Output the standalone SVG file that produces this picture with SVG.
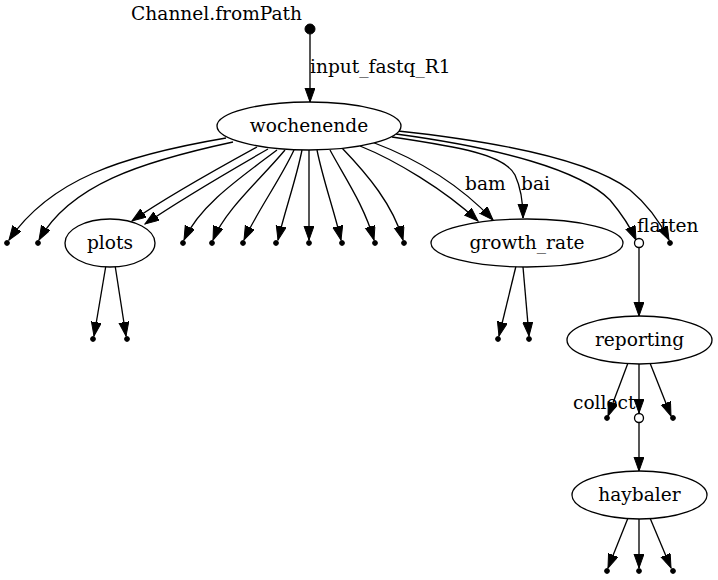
<svg xmlns="http://www.w3.org/2000/svg" width="718" height="580" viewBox="0 0 718 580">
<style>
.n{fill:#fff;stroke:#000;stroke-width:1.33}
.p{fill:#000;stroke:#000;stroke-width:1}
.o{fill:#fff;stroke:#000;stroke-width:1.33}
.e{fill:none;stroke:#000;stroke-width:1.33}
text{font-family:"DejaVu Serif","Liberation Serif",serif;font-size:18.6px;fill:#000}
.c{text-anchor:middle}
</style>
<defs>
<marker id="ah" markerUnits="userSpaceOnUse" markerWidth="15" markerHeight="11" refX="14" refY="5" orient="auto">
<path d="M0,0 L14,5 L0,10 Z" fill="#000" stroke="#000" stroke-width="1"/>
</marker>
</defs>
<rect width="718" height="580" fill="#fff"/>
<g id="connectors">
<path class="e" marker-end="url(#ah)" d="M310,34 L310,102"/>
<path class="e" marker-end="url(#ah)" d="M226,138 C120,156 50,180 9,240"/>
<path class="e" marker-end="url(#ah)" d="M233,142 C140,162 70,185 39,240"/>
<path class="e" marker-end="url(#ah)" d="M257,147 C215,170 165,198 132,221"/>
<path class="e" marker-end="url(#ah)" d="M268,149 C228,172 180,200 145,224"/>
<path class="e" marker-end="url(#ah)" d="M277,150 C240,178 200,205 184,240"/>
<path class="e" marker-end="url(#ah)" d="M285,150 C260,180 225,210 213,240"/>
<path class="e" marker-end="url(#ah)" d="M294,150 C280,180 258,210 244,240"/>
<path class="e" marker-end="url(#ah)" d="M302,150 C296,180 285,210 278,240"/>
<path class="e" marker-end="url(#ah)" d="M309,150 L309,240"/>
<path class="e" marker-end="url(#ah)" d="M317,150 C323,180 334,210 341,240"/>
<path class="e" marker-end="url(#ah)" d="M330,150 C345,178 364,205 374,240"/>
<path class="e" marker-end="url(#ah)" d="M342,148 C368,175 393,205 403,240"/>
<path class="e" marker-end="url(#ah)" d="M360,146 C395,160 445,190 478,221"/>
<path class="e" marker-end="url(#ah)" d="M372,142 C420,160 460,185 493,220"/>
<path class="e" marker-end="url(#ah)" d="M392,137 C460,147 505,155 515,175 C521,188 523,200 523,218"/>
<path class="e" marker-end="url(#ah)" d="M396,134 C500,148 580,170 610,200 C620,212 630,226 636,240"/>
<path class="e" marker-end="url(#ah)" d="M398,131 C500,142 590,160 630,190 C648,205 660,222 669,240"/>
<path class="e" marker-end="url(#ah)" d="M106,265 L94,336"/>
<path class="e" marker-end="url(#ah)" d="M115,265 L126,336"/>
<path class="e" marker-end="url(#ah)" d="M516,266 L499,336"/>
<path class="e" marker-end="url(#ah)" d="M523,267 L529,336"/>
<path class="e" marker-end="url(#ah)" d="M639,247.5 L639,316"/>
<path class="e" marker-end="url(#ah)" d="M628,363 L608,416"/>
<path class="e" marker-end="url(#ah)" d="M639,364 L639,413"/>
<path class="e" marker-end="url(#ah)" d="M650,363 L671,416"/>
<path class="e" marker-end="url(#ah)" d="M639,422.5 L639,471"/>
<path class="e" marker-end="url(#ah)" d="M628,518 L608,568"/>
<path class="e" marker-end="url(#ah)" d="M639,519 L639,568"/>
<path class="e" marker-end="url(#ah)" d="M650,518 L671,568"/>
<text x="310" y="73">input_fastq_R1</text>
<text x="465" y="190">bam</text>
<text x="521" y="190">bai</text>
<text x="637" y="232">flatten</text>
<text x="573" y="409">collect</text>
</g>
<g id="n_channel"><circle class="p" cx="310" cy="29" r="5"/><text x="302" y="20" text-anchor="end">Channel.fromPath</text></g>
<g id="n_wochenende"><ellipse class="n" cx="309" cy="126" rx="92" ry="24"/><text class="c" x="309" y="132">wochenende</text></g>
<g id="n_plots"><ellipse class="n" cx="110" cy="243" rx="45" ry="24"/><text class="c" x="110" y="249">plots</text></g>
<g id="n_growth_rate"><ellipse class="n" cx="527" cy="243" rx="96" ry="24"/><text class="c" x="527" y="249">growth_rate</text></g>
<g id="n_flatten"><circle class="o" cx="639" cy="243" r="4.5"/></g>
<g id="n_reporting"><ellipse class="n" cx="639.5" cy="340" rx="72.5" ry="24"/><text class="c" x="639.5" y="346">reporting</text></g>
<g id="n_collect"><circle class="o" cx="639" cy="418" r="4.5"/></g>
<g id="n_haybaler"><ellipse class="n" cx="639.5" cy="495" rx="67.5" ry="24"/><text class="c" x="639.5" y="501">haybaler</text></g>
<g id="n_p1"><circle class="p" cx="7" cy="243" r="2.4"/></g>
<g id="n_p2"><circle class="p" cx="38" cy="243" r="2.4"/></g>
<g id="n_p3"><circle class="p" cx="183" cy="243" r="2.4"/></g>
<g id="n_p4"><circle class="p" cx="212" cy="243" r="2.4"/></g>
<g id="n_p5"><circle class="p" cx="243" cy="243" r="2.4"/></g>
<g id="n_p6"><circle class="p" cx="276" cy="243" r="2.4"/></g>
<g id="n_p7"><circle class="p" cx="309" cy="243" r="2.4"/></g>
<g id="n_p8"><circle class="p" cx="342" cy="243" r="2.4"/></g>
<g id="n_p9"><circle class="p" cx="375" cy="243" r="2.4"/></g>
<g id="n_p10"><circle class="p" cx="404" cy="243" r="2.4"/></g>
<g id="n_p11"><circle class="p" cx="670" cy="243" r="2.4"/></g>
<g id="n_p12"><circle class="p" cx="93" cy="339" r="2.4"/></g>
<g id="n_p13"><circle class="p" cx="127" cy="339" r="2.4"/></g>
<g id="n_p14"><circle class="p" cx="498" cy="339" r="2.4"/></g>
<g id="n_p15"><circle class="p" cx="529" cy="339" r="2.4"/></g>
<g id="n_p16"><circle class="p" cx="607" cy="418" r="2.4"/></g>
<g id="n_p17"><circle class="p" cx="673" cy="418" r="2.4"/></g>
<g id="n_p18"><circle class="p" cx="607" cy="571" r="2.4"/></g>
<g id="n_p19"><circle class="p" cx="639" cy="571" r="2.4"/></g>
<g id="n_p20"><circle class="p" cx="673" cy="571" r="2.4"/></g>
</svg>
